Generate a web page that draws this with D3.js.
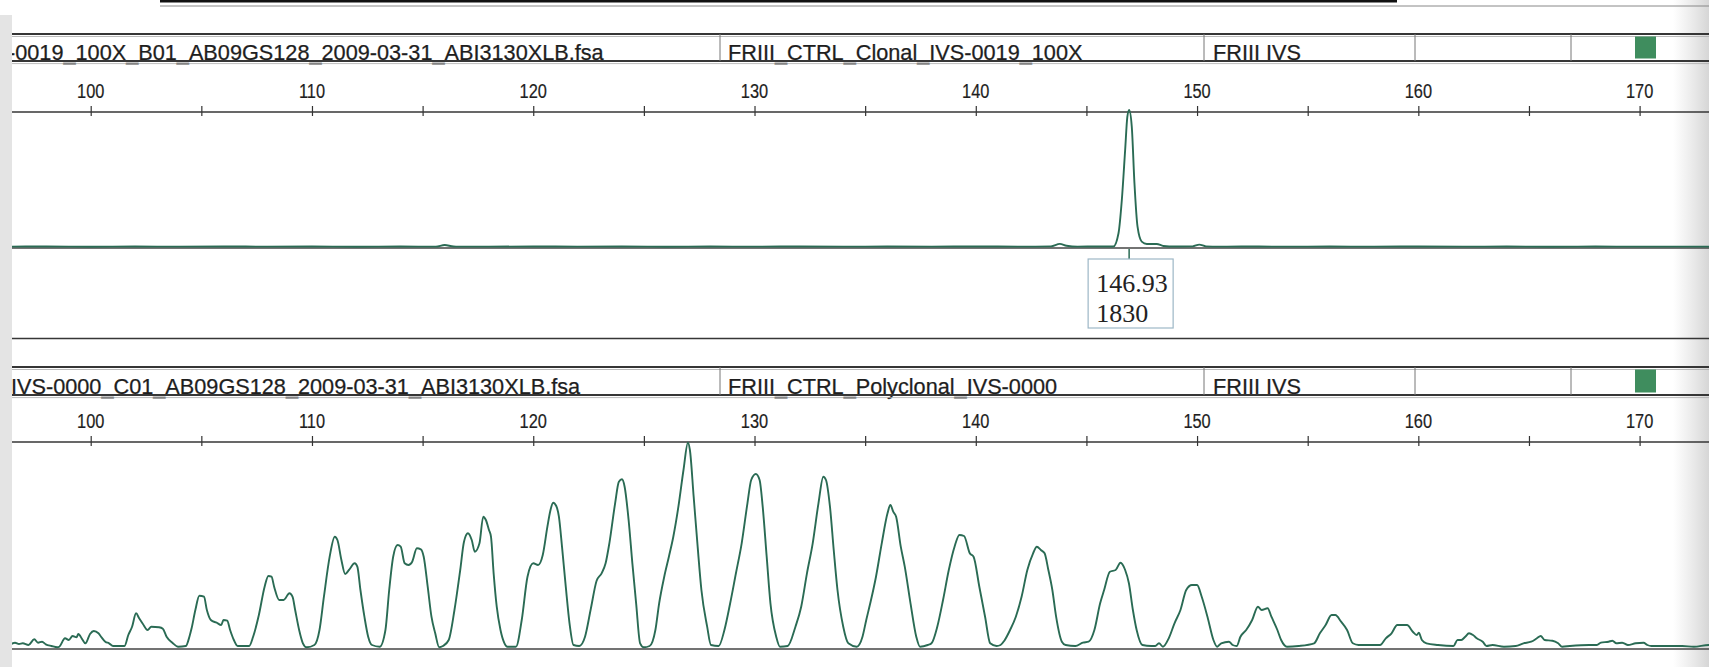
<!DOCTYPE html>
<html>
<head>
<meta charset="utf-8">
<script src="https://cdn.jsdelivr.net/npm/d3@7"></script>
<style>
  html, body { margin: 0; padding: 0; background: #fff; }
  svg { display: block; }
</style>
</head>
<body>
<svg id="chart" width="1709" height="667"></svg>
<script>
// ---- size axis (bp) ----
const sizeTicks  = [100, 105, 110, 115, 120, 125, 130, 135, 140, 145, 150, 155, 160, 165, 170];
const sizeLabels = [100, 110, 120, 130, 140, 150, 160, 170];

// ---- sample header rows ----
const clonalHeader = ["-0019_100X_B01_AB09GS128_2009-03-31_ABI3130XLB.fsa", "FRIII_CTRL_Clonal_IVS-0019_100X", "FRIII IVS"];
const polyHeader   = ["IVS-0000_C01_AB09GS128_2009-03-31_ABI3130XLB.fsa", "FRIII_CTRL_Polyclonal_IVS-0000", "FRIII IVS"];

// ---- called peak of the clonal sample ----
const peakSize = 146.93;
const peakHeight = 1830;

// ---- clonal trace: [size bp, RFU] ----
const clonalTrace = [
  [96.4,18],[98,20],[100,17],[102,19],[104,18],[106,20],[108,18],[110,19],[112,17],[114,19],
  [115.6,18],[116,40],[116.4,19],[118,18],[120,20],[122,18],[124,19],[126,17],[128,19],[130,18],
  [132,20],[134,18],[136,19],[138,18],[140,20],[142,18],[143.4,22],[143.8,55],[144.1,30],[144.6,18],
  [145.5,20],[146.22,20],[146.45,195],[146.6,636],[146.75,1300],[146.85,1741],[146.93,1830],
  [147.05,1608],[147.17,862],[147.31,282],[147.5,84],[147.73,53],[148.18,53],[148.48,27],
  [149,20],[149.8,22],[150.1,45],[150.4,22],[151,18],[152,20],[154,18],[156,19],[158,18],
  [160,20],[162,18],[164,19],[166,17],[168,19],[170,18],[173.3,18]
];

// ---- polyclonal trace: [size bp, RFU] ----
const polyTrace = [
  [96.38,47],[96.58,63],[96.76,50],[96.93,57],[97.19,40],[97.45,97],[97.62,63],[97.8,73],[97.97,47],
  [98.23,30],[98.49,17],[98.58,23],[98.84,107],[99.01,90],[99.18,130],[99.36,117],[99.44,150],
  [99.62,97],[99.76,57],[99.97,150],[100.14,180],[100.35,157],[100.49,117],[100.66,73],[100.83,57],
  [101.01,30],[101.53,30],[101.7,140],[101.87,223],[102.05,357],[102.19,307],[102.36,250],[102.57,190],
  [102.74,223],[103.09,217],[103.26,203],[103.43,123],[103.69,63],[103.95,23],[104.3,30],[104.47,130],
  [104.56,207],[104.73,390],[104.91,533],[105.12,523],[105.25,390],[105.43,290],[105.69,263],[105.9,240],
  [106,290],[106.17,283],[106.3,190],[106.47,90],[106.64,30],[107.16,30],[107.34,123],[107.6,340],
  [107.86,623],[108.03,730],[108.17,723],[108.29,623],[108.52,490],[108.72,490],[108.98,557],[109.12,523],
  [109.24,390],[109.42,190],[109.59,57],[109.76,17],[110.11,40],[110.34,190],[110.54,523],[110.8,923],
  [111.03,1123],[111.15,1090],[111.33,890],[111.5,750],[111.67,790],[111.93,857],[112.05,823],[112.19,590],
  [112.37,323],[112.54,123],[112.71,40],[113.06,23],[113.32,190],[113.49,590],[113.67,923],[113.87,1040],
  [114.01,1023],[114.19,857],[114.36,840],[114.53,873],[114.74,1007],[114.92,997],[115.05,923],[115.23,623],
  [115.4,323],[115.57,157],[115.75,17],[115.92,30],[116.18,90],[116.44,390],[116.7,790],[116.87,1073],
  [117.05,1157],[117.22,1090],[117.36,973],[117.57,1057],[117.74,1323],[117.86,1290],[118,1190],[118.09,1123],
  [118.21,757],[118.35,423],[118.52,190],[118.7,57],[118.83,23],[119.22,23],[119.48,290],[119.74,723],
  [120,857],[120.22,840],[120.43,940],[120.64,1223],[120.78,1390],[120.9,1463],[121.04,1430],[121.16,1323],
  [121.3,1023],[121.47,623],[121.64,257],[121.82,40],[122.08,30],[122.34,123],[122.6,400],[122.86,680],
  [123.09,757],[123.27,857],[123.44,1057],[123.7,1457],[123.87,1673],[124.01,1697],[124.13,1623],[124.31,1290],
  [124.48,857],[124.65,457],[124.83,57],[125,17],[125.26,30],[125.52,190],[125.69,457],[125.92,723],
  [126.13,923],[126.33,1123],[126.56,1423],[126.79,1790],[126.99,2063],[127.08,1990],[127.25,1523],[127.43,1023],
  [127.6,590],[127.86,223],[128.03,40],[128.38,30],[128.64,190],[128.9,457],[129.16,757],[129.42,1057],
  [129.68,1457],[129.85,1690],[130.06,1750],[130.23,1690],[130.37,1423],[130.55,923],[130.72,457],[130.98,123],
  [131.15,23],[131.5,30],[131.85,223],[132.11,423],[132.37,757],[132.63,1057],[132.89,1457],[133.11,1723],
  [133.23,1690],[133.41,1423],[133.58,990],[133.75,590],[134.01,223],[134.24,57],[134.62,23],[134.88,123],
  [135.05,290],[135.23,457],[135.49,723],[135.75,1057],[136.01,1357],[136.14,1440],[136.27,1373],[136.4,1323],
  [136.61,1023],[136.79,823],[137.05,457],[137.31,123],[137.48,23],[137.83,40],[138,57],[138.26,223],
  [138.52,490],[138.78,790],[139.04,1023],[139.26,1140],[139.47,1130],[139.73,957],[139.9,923],[140.16,623],
  [140.42,323],[140.65,57],[140.94,30],[141.12,40],[141.29,83],[141.55,190],[141.81,323],[142.07,523],
  [142.33,790],[142.59,957],[142.76,1023],[142.94,990],[143.11,957],[143.28,790],[143.46,590],[143.63,323],
  [143.89,73],[144.06,40],[144.5,30],[144.84,63],[145.1,73],[145.36,190],[145.62,457],[145.8,590],
  [146.06,773],[146.32,790],[146.54,863],[146.75,790],[146.92,657],[147.1,390],[147.27,190],[147.53,40],
  [147.93,30],[148.11,30],[148.28,57],[148.46,23],[148.72,107],[148.98,257],[149.25,390],[149.51,590],
  [149.77,640],[150,640],[150.21,523],[150.47,323],[150.74,90],[150.91,23],[151.09,57],[151.44,73],
  [151.61,40],[151.79,30],[151.96,123],[152.22,190],[152.49,290],[152.75,423],[152.92,390],[153.19,407],
  [153.36,323],[153.63,190],[153.8,90],[154.06,23],[154.59,30],[155.29,57],[155.55,157],[155.81,240],
  [156.08,340],[156.25,340],[156.51,273],[156.78,190],[157.04,57],[157.3,40],[158.27,40],[158.53,107],
  [158.79,157],[159.05,240],[159.49,240],[159.75,173],[159.93,140],[160.02,163],[160.16,90],[160.37,57],
  [160.89,40],[161.59,30],[161.77,90],[161.94,90],[162.12,123],[162.29,157],[162.47,140],[162.64,107],
  [162.91,73],[163.08,30],[163.35,40],[163.87,23],[164.4,30],[164.75,57],[165.1,73],[165.36,107],
  [165.53,130],[165.71,90],[166.06,83],[166.32,57],[166.5,23],[166.85,30],[167.72,40],[168.07,40],
  [168.25,63],[168.6,73],[168.77,83],[168.95,57],[169.21,63],[169.3,57],[169.47,40],[169.82,57],
  [170.18,63],[170.35,40],[170.53,30],[170.88,30],[171.93,30],[172.45,23],[173.12,40],[173.3,35]
];

// ---- drawing ----
const W = 1709, H = 667;
const svg = d3.select("#chart");
const traceColor = "#2a6b54";
const lineColor = "#363636";
const sans = "'Liberation Sans', Arial, sans-serif";
const serif = "'Liberation Serif', 'Times New Roman', serif";
const plotLeft = 12;

const x = d3.scaleLinear().domain([100, 170]).range([90.7, 1639.6]);

const defs = svg.append("defs");
defs.append("clipPath").attr("id", "plotClip")
  .append("rect").attr("x", plotLeft).attr("y", 0).attr("width", W - plotLeft).attr("height", H);
const fade = defs.append("linearGradient").attr("id", "edgeFade").attr("x1", 0).attr("x2", 1).attr("y1", 0).attr("y2", 0);
fade.append("stop").attr("offset", 0).attr("stop-color", "#dcdcdc").attr("stop-opacity", 0);
fade.append("stop").attr("offset", 1).attr("stop-color", "#d6d6d6").attr("stop-opacity", 1);

// paper edges
svg.append("rect").attr("x", 0).attr("y", 0).attr("width", W).attr("height", H).attr("fill", "#fff");
svg.append("rect").attr("x", 0).attr("y", 15).attr("width", plotLeft).attr("height", H - 15).attr("fill", "#e4e4e4");
svg.append("rect").attr("x", W - 36).attr("y", 0).attr("width", 36).attr("height", H).attr("fill", "url(#edgeFade)");

// page rule at the top
svg.append("line").attr("x1", 160).attr("x2", 1397).attr("y1", 1.2).attr("y2", 1.2)
  .attr("stroke", "#111").attr("stroke-width", 2.6);
svg.append("line").attr("x1", 160).attr("x2", W).attr("y1", 6).attr("y2", 6)
  .attr("stroke", "#888").attr("stroke-width", 1);

function hline(y, w, c) {
  svg.append("line").attr("x1", plotLeft).attr("x2", W).attr("y1", y).attr("y2", y)
    .attr("stroke", c || lineColor).attr("stroke-width", w || 1.5);
}

function drawPanel(p) {
  // header band
  hline(p.headTop, 2);
  hline(p.headTop + 2.5, 0.8, "#aaa");
  const textX = [p.firstX, 728, 1213];
  const hg = svg.append("g").attr("clip-path", "url(#plotClip)");
  p.header.forEach((t, i) => {
    hg.append("text").attr("x", textX[i]).attr("y", p.headBottom - 1.3)
      .attr("font-family", sans).attr("font-size", 21.7).attr("fill", "#1e1e1e")
      .attr("stroke", "#1e1e1e").attr("stroke-width", 0.25).text(t);
  });
  hline(p.headBottom, 2.2);
  hline(p.headBottom + 2.6, 0.8, "#aaa");
  [720, 1204, 1415, 1571].forEach(dx => {
    svg.append("line").attr("x1", dx).attr("x2", dx).attr("y1", p.headTop).attr("y2", p.headBottom)
      .attr("stroke", "#777").attr("stroke-width", 1);
  });
  svg.append("rect").attr("x", 1635).attr("y", p.headTop + 2.5).attr("width", 21).attr("height", p.headBottom - p.headTop - 5)
    .attr("fill", "#3f8d5e");

  // size axis
  const ag = svg.append("g").attr("transform", `translate(0,${p.axisY - 6})`)
    .call(d3.axisBottom(x).tickValues(sizeTicks).tickSize(10).tickFormat(""));
  ag.select(".domain").remove();
  ag.selectAll(".tick line").attr("stroke", "#333").attr("stroke-width", 1.2);
  hline(p.axisY, 1.4);
  sizeLabels.forEach(v => {
    svg.append("text").attr("transform", `translate(${x(v)},${p.axisY - 14}) scale(0.82,1.03)`)
      .attr("text-anchor", "middle").attr("font-family", sans).attr("font-size", 20)
      .attr("fill", "#1e1e1e").attr("stroke", "#1e1e1e").attr("stroke-width", 0.2).text(v);
  });

  // baseline and trace
  hline(p.baseY, 1.6, "#444");
  const line = d3.line().x(d => x(d[0])).y(d => p.y(d[1])).curve(d3.curveMonotoneX);
  svg.append("path").datum(p.trace).attr("clip-path", "url(#plotClip)")
    .attr("d", line).attr("fill", "none").attr("stroke", traceColor)
    .attr("stroke-width", 1.9).attr("stroke-linejoin", "round");
}

const yClonal = d3.scaleLinear().domain([0, 1830]).range([248, 110]);
const yPoly = d3.scaleLinear().domain([0, 2070]).range([649, 442]);

drawPanel({ headTop: 34, headBottom: 61, axisY: 112, baseY: 248, firstX: 8,
            header: clonalHeader, trace: clonalTrace, y: yClonal });
drawPanel({ headTop: 367, headBottom: 395, axisY: 442, baseY: 649, firstX: 11,
            header: polyHeader, trace: polyTrace, y: yPoly });

// separator between the two samples
hline(338.5, 1.6);

// peak call label
const px = x(peakSize);
svg.append("line").attr("x1", px).attr("x2", px).attr("y1", 249).attr("y2", 259)
  .attr("stroke", traceColor).attr("stroke-width", 1.5);
svg.append("rect").attr("x", px - 41).attr("y", 259).attr("width", 85).attr("height", 69)
  .attr("fill", "#fff").attr("stroke", "#9db7c6").attr("stroke-width", 1.2);
svg.append("text").attr("x", px - 33).attr("y", 292).attr("font-family", serif).attr("font-size", 26)
  .attr("fill", "#222").text(peakSize.toFixed(2));
svg.append("text").attr("x", px - 33).attr("y", 322).attr("font-family", serif).attr("font-size", 26)
  .attr("fill", "#222").text(peakHeight);
</script>
</body>
</html>
